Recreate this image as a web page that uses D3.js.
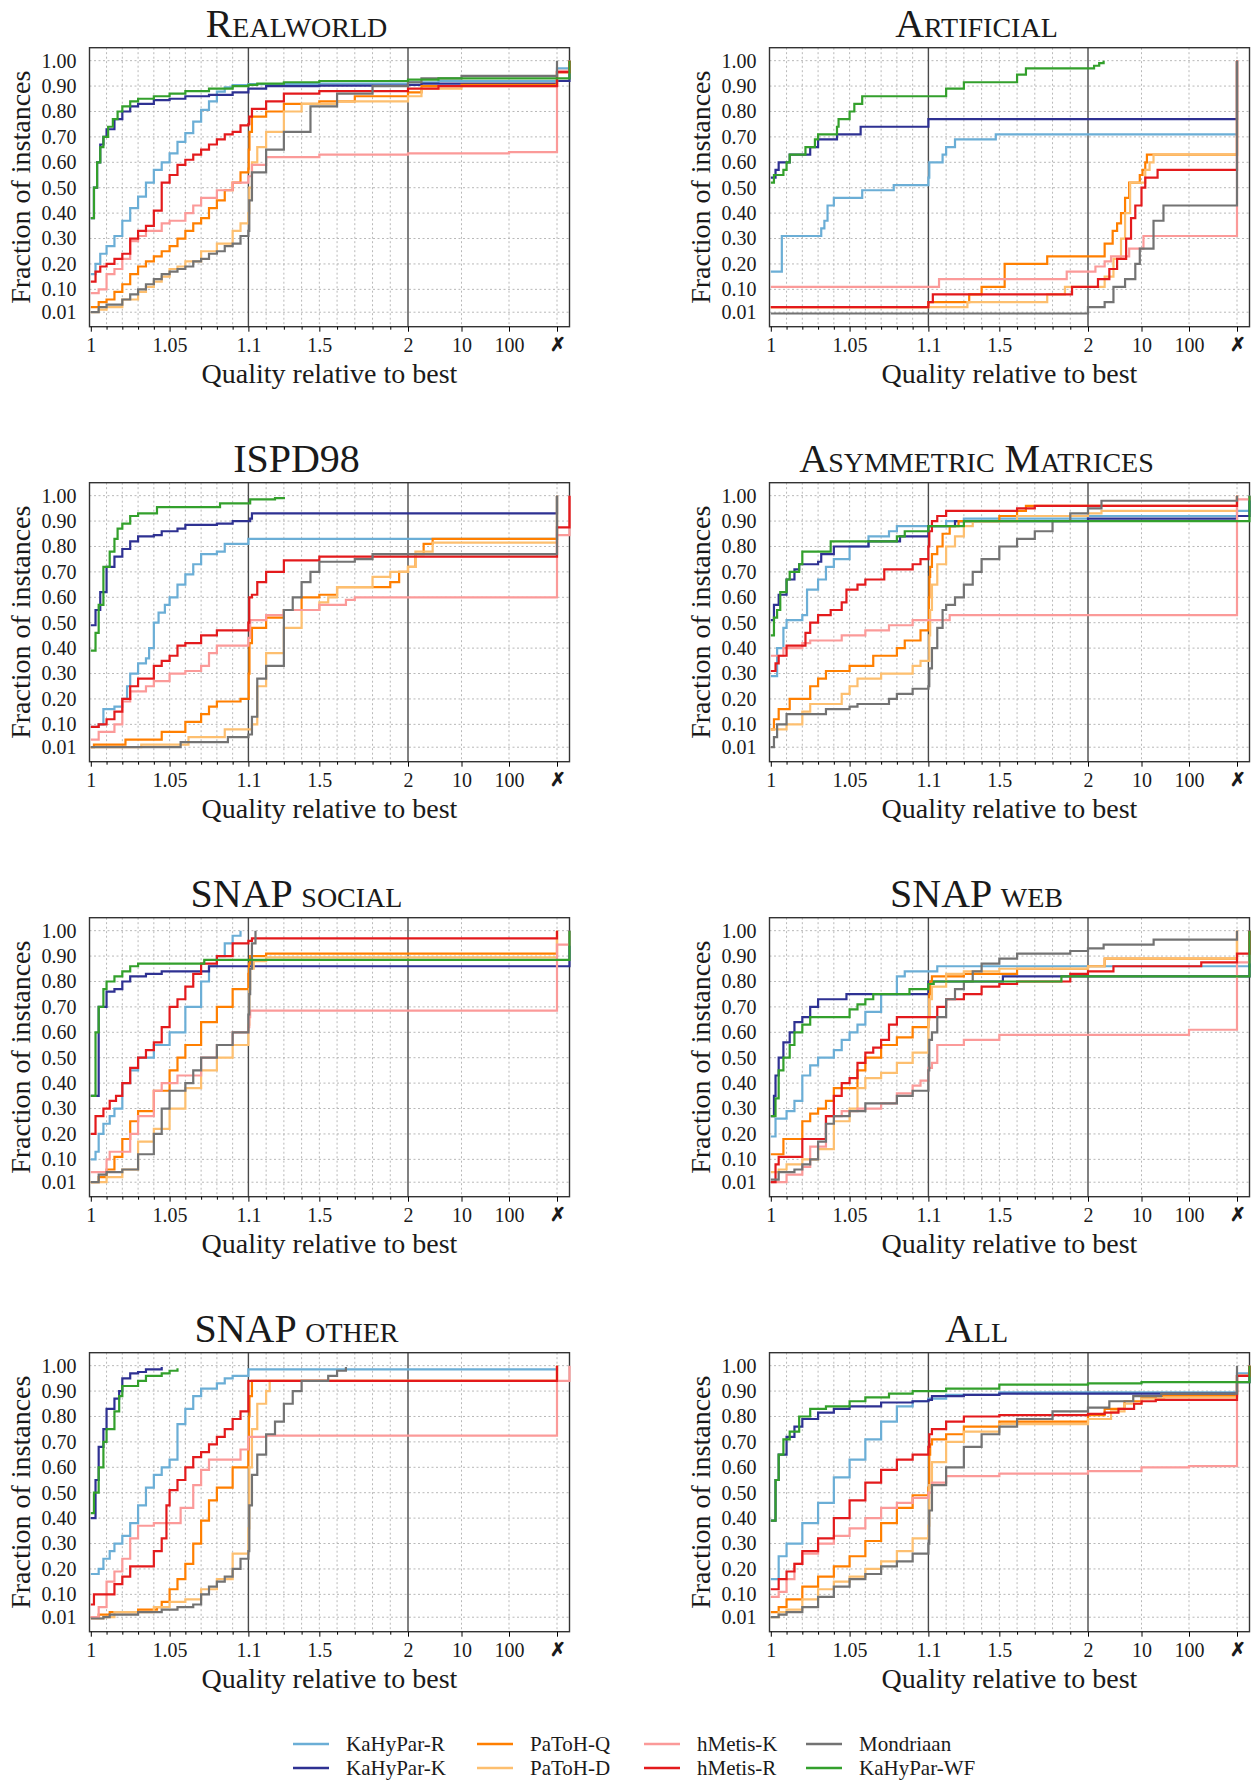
<!DOCTYPE html>
<html>
<head>
<meta charset="utf-8">
<script src="https://cdn.jsdelivr.net/npm/d3@7"></script>
<style>
  body { margin: 0; background: #fff; }
  text { font-family: "Liberation Serif", "DejaVu Serif", serif; fill: #1a1a1a; }
</style>
</head>
<body>
<svg id="chart" width="1256" height="1780"></svg>
<script>
// ✗ column and the right frame edge, as positions on the quality axis
const XM = 1000, END = 2000;

const algorithms = ["KaHyPar-R", "KaHyPar-K", "PaToH-Q", "PaToH-D", "hMetis-K", "hMetis-R", "Mondriaan", "KaHyPar-WF"];
const colors = ["#6baed6", "#2e3192", "#ff7f00", "#fdbf6f", "#fb9a99", "#e31a1c", "#737373", "#33a02c"];

const titles = ["Realworld", "Artificial", "ISPD98", "Asymmetric Matrices", "SNAP social", "SNAP web", "SNAP other", "All"];

const xTickValues = [1, 1.05, 1.1, 1.5, 2, 10, 100, XM];
const xTickLabels = ["1", "1.05", "1.1", "1.5", "2", "10", "100", "✗"];
const xMinor = [1.01, 1.02, 1.03, 1.04, 1.06, 1.07, 1.08, 1.09, 1.2, 1.3, 1.4, 1.6, 1.7, 1.8, 1.9];
const yTickValues = [0.01, 0.1, 0.2, 0.3, 0.4, 0.5, 0.6, 0.7, 0.8, 0.9, 1.0];

// each curve: [quality, fraction] steps; order follows `algorithms`
const realworldCurves = [
  [[1,0.16],[1.003,0.2],[1.006,0.24],[1.01,0.27],[1.015,0.31],[1.02,0.37],[1.025,0.42],[1.03,0.465],[1.035,0.52],[1.04,0.57],[1.045,0.6],[1.05,0.635],[1.055,0.68],[1.06,0.715],[1.065,0.76],[1.07,0.806],[1.075,0.84],[1.08,0.878],[1.085,0.895],[1.09,0.904],[1.1,0.908],[1.5,0.91],[2,0.915],[5,0.92]],
  [[1,0.38],[1.002,0.5],[1.004,0.6],[1.006,0.67],[1.008,0.7],[1.01,0.73],[1.015,0.77],[1.02,0.8],[1.025,0.82],[1.03,0.83],[1.04,0.845],[1.05,0.85],[1.06,0.86],[1.075,0.865],[1.09,0.875],[1.1,0.877],[1.1,0.89],[1.2,0.9],[1.5,0.902],[2,0.905],[3,0.91]],
  [[1,0.03],[1.005,0.05],[1.01,0.06],[1.015,0.09],[1.02,0.12],[1.025,0.16],[1.03,0.19],[1.035,0.21],[1.04,0.23],[1.045,0.25],[1.05,0.27],[1.055,0.3],[1.06,0.33],[1.065,0.36],[1.07,0.38],[1.075,0.42],[1.08,0.45],[1.085,0.49],[1.09,0.52],[1.095,0.56],[1.1,0.575],[1.102,0.65],[1.106,0.72],[1.12,0.78],[1.2,0.8],[1.3,0.83],[1.5,0.84],[1.7,0.86],[2,0.875],[3,0.9],[10,0.905]],
  [[1,0.01],[1.005,0.02],[1.01,0.03],[1.02,0.06],[1.03,0.09],[1.035,0.11],[1.04,0.13],[1.045,0.15],[1.05,0.18],[1.055,0.19],[1.06,0.21],[1.07,0.25],[1.08,0.28],[1.09,0.33],[1.095,0.36],[1.1,0.4],[1.105,0.5],[1.12,0.6],[1.15,0.66],[1.2,0.72],[1.3,0.8],[1.4,0.83],[1.6,0.84],[2,0.86],[3,0.89],[10,0.9]],
  [[1,0.085],[1.005,0.1],[1.01,0.16],[1.015,0.18],[1.02,0.22],[1.025,0.29],[1.03,0.31],[1.035,0.33],[1.045,0.36],[1.05,0.37],[1.06,0.4],[1.065,0.43],[1.07,0.46],[1.08,0.49],[1.09,0.52],[1.1,0.545],[1.12,0.59],[1.2,0.62],[1.5,0.63],[2,0.635],[100,0.64]],
  [[1,0.13],[1.003,0.17],[1.006,0.19],[1.01,0.2],[1.015,0.22],[1.02,0.24],[1.025,0.3],[1.03,0.33],[1.035,0.35],[1.04,0.41],[1.045,0.52],[1.05,0.55],[1.055,0.59],[1.06,0.61],[1.065,0.63],[1.07,0.65],[1.075,0.67],[1.08,0.69],[1.085,0.71],[1.09,0.72],[1.095,0.745],[1.1,0.75],[1.105,0.78],[1.12,0.81],[1.2,0.84],[1.3,0.87],[1.5,0.88],[2,0.89],[5,0.9]],
  [[1,0.01],[1.005,0.03],[1.01,0.04],[1.02,0.06],[1.025,0.08],[1.03,0.1],[1.035,0.12],[1.04,0.14],[1.045,0.16],[1.05,0.17],[1.055,0.18],[1.06,0.19],[1.065,0.21],[1.07,0.22],[1.075,0.24],[1.08,0.25],[1.085,0.27],[1.09,0.28],[1.095,0.31],[1.1,0.33],[1.105,0.45],[1.12,0.56],[1.2,0.65],[1.3,0.72],[1.45,0.82],[1.6,0.87],[1.8,0.9],[2,0.915],[3,0.93],[10,0.94]],
  [[1,0.38],[1.002,0.5],[1.004,0.6],[1.006,0.66],[1.008,0.7],[1.011,0.74],[1.014,0.77],[1.017,0.8],[1.02,0.82],[1.025,0.84],[1.03,0.85],[1.04,0.86],[1.05,0.87],[1.06,0.88],[1.075,0.89],[1.09,0.9],[1.1,0.905],[1.15,0.91],[1.3,0.915],[1.5,0.92],[2,0.925],[5,0.93]]
];
const realworldAtX = [0.97, 0.92, 0.955, 0.955, 0.96, 0.955, 1, 0.93];

const artificialCurves = [
  [[1,0.17],[1.005,0.17],[1.007,0.31],[1.03,0.31],[1.032,0.34],[1.034,0.37],[1.036,0.43],[1.04,0.46],[1.057,0.46],[1.058,0.49],[1.077,0.49],[1.078,0.51],[1.1,0.51],[1.1,0.54],[1.105,0.6],[1.18,0.63],[1.2,0.66],[1.25,0.69],[1.48,0.71]],
  [[1,0.54],[1.003,0.57],[1.005,0.6],[1.01,0.6],[1.012,0.63],[1.02,0.63],[1.025,0.66],[1.03,0.69],[1.04,0.69],[1.042,0.71],[1.055,0.71],[1.057,0.74],[1.1,0.74],[1.1,0.77]],
  [[1,0.03],[1.1,0.03],[1.1,0.05],[1.32,0.05],[1.33,0.08],[1.4,0.11],[1.52,0.11],[1.53,0.2],[1.76,0.2],[1.77,0.23],[2,0.23],[3.3,0.28],[4.2,0.33],[4.8,0.36],[5.4,0.4],[6.1,0.46],[6.9,0.52],[8.8,0.52],[9.5,0.55],[10.5,0.57],[12,0.6],[13,0.63]],
  [[1,0.03],[1.31,0.03],[1.32,0.05],[1.75,0.05],[1.77,0.08],[1.86,0.08],[1.87,0.11],[2,0.11],[3.3,0.15],[4.3,0.22],[5.4,0.3],[6.1,0.4],[7.1,0.52],[8.8,0.52],[12,0.57],[14.8,0.6],[17.9,0.63]],
  [[1,0.11],[1.1,0.11],[1.16,0.14],[1.88,0.17],[2,0.17],[2.5,0.19],[3.3,0.21],[4,0.23],[5.6,0.23],[6.9,0.26],[10,0.26],[11,0.31]],
  [[1,0.03],[1.1,0.03],[1.1,0.05],[1.12,0.05],[1.125,0.08],[1.9,0.08],[1.91,0.11],[2,0.11],[2.7,0.14],[3.8,0.18],[4.8,0.22],[6.3,0.3],[7.3,0.38],[8.3,0.43],[10,0.5],[12,0.54],[21.8,0.57]],
  [[1,0.005],[2,0.005],[2,0.03],[3.3,0.05],[4.3,0.11],[5.4,0.11],[6.1,0.14],[7.3,0.14],[8.3,0.2],[9.5,0.26],[13.4,0.26],[17.9,0.37],[29,0.43]],
  [[1,0.52],[1.002,0.55],[1.007,0.55],[1.008,0.57],[1.01,0.6],[1.012,0.63],[1.02,0.63],[1.022,0.66],[1.028,0.69],[1.03,0.71],[1.04,0.71],[1.042,0.74],[1.043,0.77],[1.048,0.77],[1.05,0.8],[1.053,0.83],[1.056,0.83],[1.058,0.86],[1.19,0.86],[1.2,0.89],[1.28,0.89],[1.3,0.915],[1.58,0.915],[1.6,0.945],[1.63,0.945],[1.65,0.97],[2,0.97],[2.4,0.98],[2.8,0.99],[3.2,1.0]]
];
const artificialAtX = [1, 1, 1, 1, 1, 1, 1, null];

const ispdCurves = [
  [[1,0.09],[1.005,0.1],[1.008,0.16],[1.015,0.17],[1.02,0.2],[1.023,0.25],[1.025,0.3],[1.03,0.34],[1.035,0.36],[1.037,0.4],[1.04,0.5],[1.043,0.54],[1.047,0.57],[1.05,0.6],[1.055,0.65],[1.06,0.69],[1.065,0.73],[1.07,0.77],[1.08,0.78],[1.085,0.81],[1.1,0.815],[1.1,0.83]],
  [[1,0.49],[1.003,0.55],[1.006,0.62],[1.01,0.72],[1.015,0.76],[1.02,0.79],[1.025,0.82],[1.03,0.84],[1.04,0.845],[1.045,0.86],[1.055,0.87],[1.06,0.885],[1.08,0.89],[1.09,0.9],[1.1,0.9],[1.11,0.91],[1.12,0.93]],
  [[1,0.01],[1.002,0.02],[1.02,0.02],[1.022,0.04],[1.04,0.04],[1.045,0.07],[1.055,0.07],[1.06,0.11],[1.07,0.14],[1.075,0.17],[1.08,0.19],[1.095,0.2],[1.1,0.2],[1.102,0.3],[1.106,0.42],[1.12,0.48],[1.2,0.52],[1.3,0.55],[1.4,0.6],[1.5,0.61],[1.6,0.64],[1.9,0.66],[1.95,0.7],[2,0.72],[2.5,0.77],[3.2,0.81],[4.2,0.83]],
  [[1,0.01],[1.03,0.01],[1.032,0.02],[1.06,0.02],[1.062,0.05],[1.08,0.05],[1.085,0.08],[1.1,0.08],[1.12,0.1],[1.15,0.25],[1.2,0.38],[1.3,0.48],[1.4,0.55],[1.5,0.58],[1.55,0.6],[1.6,0.64],[1.8,0.68],[1.9,0.7],[2,0.72],[2.5,0.78],[4.2,0.815]],
  [[1,0.04],[1.005,0.07],[1.015,0.1],[1.02,0.19],[1.025,0.23],[1.035,0.25],[1.04,0.27],[1.05,0.3],[1.06,0.31],[1.07,0.33],[1.075,0.38],[1.08,0.41],[1.1,0.42],[1.1,0.44],[1.11,0.51],[1.2,0.53],[1.3,0.55],[1.5,0.57],[1.65,0.59],[1.7,0.6]],
  [[1,0.09],[1.005,0.1],[1.01,0.12],[1.015,0.15],[1.02,0.2],[1.025,0.25],[1.03,0.28],[1.04,0.33],[1.045,0.35],[1.05,0.37],[1.055,0.41],[1.06,0.42],[1.07,0.45],[1.08,0.47],[1.1,0.47],[1.1,0.5],[1.105,0.6],[1.12,0.61],[1.15,0.66],[1.2,0.7],[1.3,0.745],[1.5,0.76]],
  [[1,0.01],[1.055,0.01],[1.057,0.03],[1.085,0.03],[1.087,0.05],[1.1,0.05],[1.1,0.06],[1.12,0.13],[1.15,0.28],[1.2,0.33],[1.3,0.55],[1.35,0.6],[1.4,0.66],[1.45,0.7],[1.5,0.74],[1.7,0.75],[1.8,0.77]],
  [[1,0.39],[1.003,0.46],[1.005,0.57],[1.008,0.72],[1.012,0.78],[1.015,0.83],[1.017,0.87],[1.02,0.89],[1.025,0.92],[1.03,0.93],[1.04,0.93],[1.042,0.955],[1.08,0.955],[1.082,0.97],[1.1,0.97],[1.11,0.985],[1.25,0.99],[1.3,0.995]]
];
const ispdAtX = [1, 1, 1, 1, 0.845, 0.875, 1, null];

const asymCurves = [
  [[1,0.29],[1.004,0.4],[1.008,0.48],[1.01,0.51],[1.02,0.53],[1.023,0.63],[1.03,0.67],[1.035,0.72],[1.04,0.75],[1.05,0.8],[1.062,0.84],[1.075,0.86],[1.08,0.88],[1.1,0.88],[1.2,0.9],[1.3,0.91],[2,0.92]],
  [[1,0.51],[1.002,0.57],[1.005,0.61],[1.01,0.67],[1.015,0.71],[1.018,0.73],[1.03,0.74],[1.032,0.77],[1.04,0.8],[1.06,0.8],[1.062,0.82],[1.08,0.82],[1.082,0.84],[1.1,0.84],[1.1,0.88],[1.22,0.88],[1.25,0.9],[2,0.91]],
  [[1,0.08],[1.002,0.12],[1.005,0.16],[1.01,0.16],[1.012,0.2],[1.022,0.2],[1.025,0.25],[1.03,0.28],[1.035,0.31],[1.045,0.31],[1.05,0.33],[1.06,0.33],[1.065,0.37],[1.075,0.37],[1.08,0.4],[1.085,0.43],[1.09,0.43],[1.095,0.47],[1.1,0.5],[1.103,0.6],[1.106,0.68],[1.11,0.72],[1.12,0.77],[1.15,0.8],[1.18,0.85],[1.22,0.88],[1.27,0.9],[1.5,0.92],[1.6,0.94],[1.65,0.96]],
  [[1,0.08],[1.01,0.1],[1.015,0.1],[1.02,0.15],[1.025,0.18],[1.04,0.18],[1.045,0.22],[1.05,0.25],[1.055,0.28],[1.065,0.28],[1.07,0.3],[1.085,0.3],[1.09,0.33],[1.095,0.35],[1.1,0.35],[1.105,0.45],[1.11,0.55],[1.12,0.65],[1.15,0.73],[1.2,0.8],[1.25,0.84],[1.3,0.88],[1.35,0.9],[1.6,0.92],[2,0.93],[3,0.94]],
  [[1,0.37],[1.006,0.37],[1.008,0.4],[1.02,0.42],[1.025,0.43],[1.04,0.43],[1.045,0.45],[1.055,0.45],[1.06,0.47],[1.07,0.47],[1.075,0.49],[1.085,0.49],[1.09,0.51],[1.2,0.51],[1.22,0.53]],
  [[1,0.31],[1.003,0.34],[1.005,0.37],[1.01,0.41],[1.02,0.41],[1.022,0.46],[1.025,0.5],[1.03,0.53],[1.038,0.55],[1.045,0.58],[1.048,0.63],[1.055,0.65],[1.06,0.67],[1.07,0.67],[1.072,0.71],[1.09,0.73],[1.095,0.75],[1.1,0.76],[1.1,0.8],[1.105,0.86],[1.12,0.9],[1.15,0.92],[1.2,0.94],[1.4,0.94],[1.6,0.95],[1.7,0.96]],
  [[1,0.01],[1.002,0.05],[1.004,0.1],[1.01,0.14],[1.03,0.14],[1.035,0.16],[1.05,0.17],[1.055,0.18],[1.07,0.18],[1.075,0.2],[1.08,0.22],[1.09,0.24],[1.1,0.25],[1.105,0.32],[1.12,0.4],[1.15,0.48],[1.18,0.55],[1.2,0.57],[1.25,0.6],[1.3,0.65],[1.35,0.7],[1.4,0.75],[1.5,0.8],[1.6,0.83],[1.7,0.86],[1.8,0.9],[1.9,0.93],[2,0.95],[3,0.98]],
  [[1,0.45],[1.002,0.52],[1.004,0.55],[1.006,0.62],[1.01,0.67],[1.012,0.7],[1.018,0.73],[1.02,0.78],[1.035,0.78],[1.038,0.82],[1.075,0.82],[1.08,0.84],[1.085,0.86],[1.1,0.86],[1.1,0.88],[1.25,0.88],[1.3,0.9]]
];
const asymAtX = [0.94, 0.92, 1, 1, 0.985, 1, 1, 0.9];

const socialCurves = [
  [[1,0.1],[1.003,0.13],[1.005,0.2],[1.008,0.24],[1.012,0.27],[1.015,0.3],[1.02,0.4],[1.025,0.45],[1.03,0.5],[1.04,0.55],[1.05,0.6],[1.06,0.7],[1.07,0.8],[1.075,0.86],[1.08,0.9],[1.085,0.95],[1.09,0.98],[1.095,1.0]],
  [[1,0.35],[1.005,0.7],[1.01,0.76],[1.015,0.77],[1.02,0.8],[1.025,0.82],[1.035,0.83],[1.045,0.84],[1.07,0.84],[1.075,0.86]],
  [[1,0.01],[1.005,0.03],[1.01,0.06],[1.015,0.11],[1.02,0.18],[1.025,0.25],[1.03,0.29],[1.04,0.37],[1.05,0.45],[1.055,0.5],[1.06,0.55],[1.07,0.64],[1.08,0.7],[1.09,0.77],[1.1,0.83],[1.103,0.87],[1.11,0.9],[1.2,0.91]],
  [[1,0.01],[1.01,0.03],[1.02,0.06],[1.03,0.17],[1.04,0.22],[1.05,0.3],[1.06,0.38],[1.07,0.45],[1.08,0.5],[1.09,0.55],[1.1,0.63],[1.105,0.77],[1.11,0.85],[1.13,0.88],[1.2,0.895]],
  [[1,0.05],[1.008,0.05],[1.01,0.1],[1.012,0.13],[1.02,0.13],[1.025,0.2],[1.03,0.27],[1.04,0.37],[1.045,0.4],[1.055,0.43],[1.07,0.5],[1.08,0.55],[1.09,0.6],[1.1,0.62],[1.105,0.66],[1.11,0.685]],
  [[1,0.2],[1.003,0.27],[1.008,0.3],[1.012,0.33],[1.016,0.35],[1.02,0.4],[1.025,0.46],[1.03,0.5],[1.035,0.53],[1.04,0.56],[1.045,0.62],[1.05,0.7],[1.055,0.73],[1.06,0.78],[1.065,0.83],[1.07,0.87],[1.08,0.9],[1.09,0.95],[1.1,0.96],[1.12,0.97]],
  [[1,0.01],[1.005,0.04],[1.01,0.05],[1.02,0.06],[1.03,0.12],[1.04,0.2],[1.045,0.3],[1.05,0.37],[1.06,0.4],[1.065,0.45],[1.07,0.5],[1.08,0.55],[1.09,0.6],[1.1,0.67],[1.105,0.75],[1.11,0.85],[1.12,0.95],[1.14,1.0]],
  [[1,0.35],[1.003,0.6],[1.005,0.7],[1.008,0.77],[1.01,0.8],[1.015,0.82],[1.02,0.84],[1.025,0.86],[1.03,0.87],[1.07,0.87],[1.072,0.885]]
];
const socialAtX = [null, 0.86, 1, 1, 0.945, 1, null, 0.885];

const webCurves = [
  [[1,0.19],[1.003,0.26],[1.01,0.29],[1.015,0.33],[1.02,0.43],[1.025,0.47],[1.03,0.5],[1.04,0.53],[1.045,0.57],[1.05,0.6],[1.055,0.63],[1.06,0.68],[1.07,0.75],[1.08,0.82],[1.085,0.84],[1.1,0.84],[1.15,0.86]],
  [[1,0.27],[1.002,0.35],[1.003,0.43],[1.005,0.5],[1.008,0.56],[1.012,0.6],[1.015,0.64],[1.02,0.66],[1.025,0.7],[1.03,0.73],[1.045,0.73],[1.048,0.75],[1.095,0.75],[1.1,0.78],[1.1,0.8],[1.5,0.8],[1.52,0.82]],
  [[1,0.12],[1.005,0.12],[1.008,0.18],[1.015,0.18],[1.02,0.25],[1.025,0.28],[1.03,0.3],[1.035,0.33],[1.04,0.38],[1.05,0.38],[1.055,0.45],[1.06,0.5],[1.07,0.55],[1.08,0.58],[1.09,0.62],[1.1,0.66],[1.105,0.75],[1.11,0.8],[1.12,0.82],[1.3,0.83],[1.6,0.85],[2,0.86],[3.3,0.89]],
  [[1,0.05],[1.005,0.06],[1.01,0.08],[1.02,0.1],[1.03,0.14],[1.04,0.25],[1.05,0.3],[1.055,0.38],[1.06,0.42],[1.07,0.44],[1.08,0.48],[1.09,0.52],[1.1,0.56],[1.1,0.65],[1.105,0.73],[1.12,0.78],[1.2,0.83],[1.3,0.84],[1.5,0.85],[2,0.86],[3.3,0.89]],
  [[1,0.01],[1.005,0.01],[1.01,0.04],[1.02,0.07],[1.025,0.15],[1.035,0.27],[1.045,0.29],[1.055,0.3],[1.07,0.32],[1.08,0.36],[1.09,0.39],[1.095,0.41],[1.1,0.41],[1.1,0.46],[1.12,0.48],[1.15,0.55],[1.3,0.57],[1.45,0.57],[1.5,0.59],[95,0.59],[100,0.61]],
  [[1,0.01],[1.003,0.08],[1.005,0.11],[1.015,0.11],[1.02,0.18],[1.03,0.18],[1.035,0.27],[1.04,0.35],[1.045,0.4],[1.05,0.42],[1.055,0.48],[1.06,0.52],[1.065,0.54],[1.07,0.57],[1.075,0.63],[1.08,0.66],[1.1,0.66],[1.15,0.7],[1.2,0.73],[1.3,0.75],[1.4,0.78],[1.5,0.79],[1.6,0.8],[1.8,0.8],[1.9,0.83],[2,0.84],[4.3,0.86],[180,0.875]],
  [[1,0.02],[1.005,0.05],[1.015,0.06],[1.02,0.08],[1.025,0.1],[1.03,0.17],[1.035,0.24],[1.04,0.27],[1.05,0.29],[1.06,0.32],[1.075,0.32],[1.08,0.35],[1.09,0.37],[1.1,0.39],[1.1,0.45],[1.105,0.57],[1.12,0.6],[1.15,0.66],[1.2,0.73],[1.25,0.77],[1.3,0.8],[1.35,0.84],[1.4,0.87],[1.5,0.89],[1.6,0.91],[1.9,0.92],[2,0.93],[3.2,0.945],[18,0.965]],
  [[1,0.27],[1.003,0.34],[1.005,0.45],[1.008,0.5],[1.012,0.55],[1.015,0.6],[1.02,0.63],[1.025,0.66],[1.045,0.66],[1.05,0.69],[1.055,0.71],[1.06,0.73],[1.065,0.75],[1.085,0.75],[1.088,0.77],[1.1,0.77],[1.1,0.79],[1.13,0.8],[1.8,0.8],[1.85,0.82]]
];
const webAtX = [0.86, 0.82, 1, 1, 0.875, 0.91, 1, 0.82];

const otherCurves = [
  [[1,0.18],[1.005,0.2],[1.008,0.24],[1.012,0.27],[1.015,0.3],[1.02,0.33],[1.025,0.38],[1.03,0.45],[1.035,0.52],[1.04,0.57],[1.045,0.6],[1.05,0.63],[1.055,0.77],[1.06,0.83],[1.065,0.88],[1.07,0.91],[1.08,0.93],[1.085,0.95],[1.09,0.96],[1.1,0.97],[1.1,0.985]],
  [[1,0.4],[1.003,0.55],[1.005,0.68],[1.008,0.75],[1.01,0.83],[1.015,0.87],[1.018,0.9],[1.02,0.95],[1.025,0.97],[1.03,0.975],[1.035,0.985],[1.045,0.995]],
  [[1,0.01],[1.005,0.02],[1.012,0.03],[1.03,0.04],[1.042,0.05],[1.045,0.07],[1.05,0.12],[1.055,0.16],[1.06,0.22],[1.065,0.3],[1.07,0.39],[1.075,0.47],[1.08,0.52],[1.09,0.6],[1.1,0.67],[1.103,0.8],[1.106,0.88],[1.12,0.94]],
  [[1,0.005],[1.008,0.01],[1.015,0.03],[1.04,0.05],[1.05,0.07],[1.06,0.08],[1.07,0.12],[1.08,0.16],[1.09,0.26],[1.1,0.36],[1.105,0.6],[1.12,0.75],[1.15,0.85],[1.2,0.9],[1.22,0.94]],
  [[1,0.01],[1.005,0.05],[1.01,0.15],[1.015,0.19],[1.02,0.24],[1.025,0.32],[1.03,0.37],[1.04,0.38],[1.055,0.38],[1.057,0.44],[1.065,0.53],[1.07,0.59],[1.075,0.63],[1.09,0.63],[1.095,0.67],[1.1,0.69],[1.1,0.72],[1.2,0.725]],
  [[1,0.06],[1.002,0.1],[1.012,0.1],[1.015,0.14],[1.02,0.17],[1.025,0.21],[1.035,0.21],[1.04,0.27],[1.045,0.32],[1.048,0.45],[1.05,0.51],[1.055,0.55],[1.06,0.6],[1.065,0.64],[1.07,0.66],[1.075,0.69],[1.08,0.72],[1.085,0.75],[1.09,0.79],[1.095,0.82],[1.1,0.87],[1.1,0.94]],
  [[1,0.005],[1.008,0.01],[1.012,0.02],[1.03,0.03],[1.045,0.04],[1.055,0.05],[1.065,0.06],[1.07,0.1],[1.075,0.13],[1.08,0.15],[1.085,0.17],[1.09,0.2],[1.095,0.24],[1.1,0.27],[1.105,0.45],[1.12,0.57],[1.15,0.65],[1.2,0.73],[1.25,0.78],[1.3,0.85],[1.35,0.9],[1.4,0.94],[1.5,0.94],[1.55,0.96],[1.6,0.98],[1.65,0.995]],
  [[1,0.42],[1.002,0.5],[1.005,0.6],[1.008,0.7],[1.01,0.75],[1.015,0.82],[1.018,0.88],[1.02,0.92],[1.03,0.94],[1.035,0.96],[1.045,0.97],[1.05,0.98],[1.055,0.99]]
];
const otherAtX = [1, null, 1, 1, 0.94, 1, null, null];

const allCurves = [
  [[1,0.16],[1.005,0.25],[1.01,0.3],[1.02,0.38],[1.03,0.46],[1.04,0.56],[1.05,0.63],[1.06,0.71],[1.07,0.78],[1.08,0.84],[1.09,0.86],[1.1,0.87],[1.2,0.885],[1.5,0.895],[2,0.895]],
  [[1,0.39],[1.003,0.55],[1.005,0.65],[1.01,0.72],[1.015,0.76],[1.02,0.79],[1.03,0.815],[1.04,0.83],[1.05,0.84],[1.07,0.855],[1.09,0.86],[1.1,0.865],[1.12,0.88],[1.3,0.885],[1.5,0.89]],
  [[1,0.03],[1.005,0.05],[1.01,0.08],[1.02,0.13],[1.03,0.17],[1.04,0.21],[1.05,0.25],[1.06,0.31],[1.07,0.38],[1.08,0.44],[1.09,0.49],[1.1,0.52],[1.105,0.65],[1.11,0.69],[1.12,0.71],[1.2,0.73],[1.3,0.76],[1.5,0.78],[2,0.805],[3.3,0.83],[6,0.86],[10,0.875],[20,0.88]],
  [[1,0.01],[1.005,0.03],[1.01,0.04],[1.02,0.08],[1.03,0.12],[1.04,0.15],[1.05,0.17],[1.06,0.2],[1.07,0.23],[1.08,0.27],[1.09,0.32],[1.1,0.37],[1.105,0.53],[1.12,0.62],[1.2,0.7],[1.3,0.74],[1.5,0.77],[2,0.79],[4,0.82],[6,0.85],[10,0.87],[30,0.875]],
  [[1,0.09],[1.005,0.11],[1.01,0.16],[1.015,0.22],[1.02,0.26],[1.03,0.3],[1.04,0.33],[1.05,0.36],[1.06,0.4],[1.07,0.44],[1.08,0.46],[1.09,0.48],[1.1,0.5],[1.12,0.54],[1.2,0.565],[1.5,0.575],[2,0.585],[10,0.6],[100,0.605]],
  [[1,0.12],[1.005,0.16],[1.01,0.19],[1.015,0.22],[1.02,0.27],[1.03,0.32],[1.04,0.4],[1.05,0.47],[1.06,0.54],[1.07,0.59],[1.08,0.63],[1.09,0.65],[1.1,0.68],[1.105,0.73],[1.12,0.75],[1.2,0.78],[1.3,0.8],[1.5,0.805],[2,0.81],[3.3,0.815],[5,0.83],[8,0.85],[10,0.86],[20,0.865]],
  [[1,0.01],[1.005,0.02],[1.01,0.03],[1.02,0.05],[1.03,0.09],[1.04,0.13],[1.05,0.16],[1.06,0.18],[1.07,0.21],[1.08,0.23],[1.09,0.26],[1.1,0.3],[1.105,0.43],[1.12,0.53],[1.2,0.6],[1.3,0.68],[1.4,0.73],[1.5,0.76],[1.6,0.79],[1.8,0.82],[2,0.835],[3.8,0.86],[7.8,0.88],[26,0.89]],
  [[1,0.39],[1.003,0.55],[1.005,0.65],[1.008,0.71],[1.012,0.74],[1.018,0.8],[1.025,0.83],[1.035,0.84],[1.05,0.86],[1.06,0.875],[1.075,0.89],[1.09,0.9],[1.1,0.9],[1.2,0.91],[1.5,0.925],[2,0.93],[10,0.935]]
];
const allAtX = [0.97, 0.935, 0.96, 0.96, 0.96, 0.96, 1, 0.935];

const panels = [
  { title: titles[0], curves: realworldCurves, atX: realworldAtX },
  { title: titles[1], curves: artificialCurves, atX: artificialAtX },
  { title: titles[2], curves: ispdCurves, atX: ispdAtX },
  { title: titles[3], curves: asymCurves, atX: asymAtX },
  { title: titles[4], curves: socialCurves, atX: socialAtX },
  { title: titles[5], curves: webCurves, atX: webAtX },
  { title: titles[6], curves: otherCurves, atX: otherAtX },
  { title: titles[7], curves: allCurves, atX: allAtX }
];

// layout
const W = 480, H = 279;
const colX = [89.5, 769.5];
const rowY = [47.7, 482.7, 917.7, 1352.7];

// piecewise axis: linear to 2, logarithmic beyond
const tr = v => v <= 2 ? v : 2 + Math.log10(v / 2);
const xs = d3.scaleLinear()
  .domain([1, 1.1, 2, tr(10), tr(100), tr(XM), tr(END)])
  .range([1.3, 158.9, 318.5, 372, 419.5, 467.5, 480]);
const x = v => xs(tr(v));
const y = d3.scaleLinear().domain([-0.047, 1.051]).range([H, 0]);

const line = d3.line()
  .x(d => x(d[0]))
  .y(d => y(d[1]))
  .curve(d3.curveStepAfter);

const svg = d3.select("#chart");

panels.forEach((p, i) => {
  const x0 = colX[i % 2], y0 = rowY[Math.floor(i / 2)];
  const g = svg.append("g").attr("transform", `translate(${x0},${y0})`);

  // dotted grid
  g.append("g").selectAll("line")
    .data(yTickValues)
    .join("line")
    .attr("x1", 0).attr("x2", W)
    .attr("y1", d => y(d)).attr("y2", d => y(d))
    .attr("stroke", "#b8b8b8")
    .attr("stroke-dasharray", "2,2.5");

  g.append("g").selectAll("line")
    .data(xMinor.concat([1.05, 1.5, 10, 100, XM]))
    .join("line")
    .attr("x1", d => x(d)).attr("x2", d => x(d))
    .attr("y1", 0).attr("y2", H)
    .attr("stroke", "#b8b8b8")
    .attr("stroke-dasharray", "2,2.5");

  // section borders
  g.append("g").selectAll("line")
    .data([1.1, 2])
    .join("line")
    .attr("x1", d => x(d)).attr("x2", d => x(d))
    .attr("y1", 0).attr("y2", H)
    .attr("stroke", "#4a4a4a")
    .attr("stroke-width", 1.4);

  g.append("rect")
    .attr("width", W).attr("height", H)
    .attr("fill", "none")
    .attr("stroke", "#333")
    .attr("stroke-width", 1.4);

  // axes
  const xAxis = g.append("g")
    .attr("transform", `translate(0,${H})`)
    .call(d3.axisBottom(xs).tickValues(xTickValues.map(tr)).tickSize(5).tickPadding(6)
      .tickFormat((d, k) => xTickLabels[k]));
  xAxis.select(".domain").remove();
  xAxis.selectAll("text").attr("font-size", 20).attr("font-family", null);
  xAxis.selectAll("text").filter((d, k) => k === xTickLabels.length - 1)
    .attr("font-family", "DejaVu Sans").attr("font-weight", "bold").attr("font-size", 19);

  const minor = g.append("g")
    .attr("transform", `translate(0,${H})`)
    .call(d3.axisBottom(xs).tickValues(xMinor.map(tr)).tickSize(3).tickFormat(""));
  minor.select(".domain").remove();

  const yAxis = g.append("g")
    .call(d3.axisLeft(y).tickValues(yTickValues).tickSize(0).tickPadding(13).tickFormat(d3.format(".2f")));
  yAxis.select(".domain").remove();
  yAxis.selectAll("text").attr("font-size", 20).attr("font-family", null);

  // curves
  p.curves.forEach((c, k) => {
    const pts = c.slice();
    const last = pts[pts.length - 1][1];
    const ax = p.atX[k];
    if (ax !== null) {
      pts.push([XM, last], [XM, ax]);
      if (ax < 1) pts.push([END, ax], [END, 1]);
    }
    g.append("path")
      .datum(pts)
      .attr("d", line)
      .attr("fill", "none")
      .attr("stroke", colors[k])
      .attr("stroke-width", 2.2);
  });

  // labels
  g.append("text")
    .attr("x", W / 2 - 33).attr("y", -11)
    .attr("text-anchor", "middle")
    .attr("font-size", 40)
    .style("font-variant", "small-caps")
    .text(p.title);

  g.append("text")
    .attr("x", W / 2).attr("y", H + 56)
    .attr("text-anchor", "middle")
    .attr("font-size", 28)
    .text("Quality relative to best");

  g.append("text")
    .attr("transform", `translate(-69,${H / 2}) rotate(-90)`)
    .attr("text-anchor", "middle")
    .attr("dominant-baseline", "central")
    .attr("font-size", 28)
    .text("Fraction of instances");
});

// legend, two rows per column
const legendX = [293, 477, 644, 806];
const legendY = [1744, 1768];
const legend = svg.append("g").selectAll("g")
  .data(algorithms)
  .join("g")
  .attr("transform", (d, k) => `translate(${legendX[Math.floor(k / 2)]},${legendY[k % 2]})`);

legend.append("line")
  .attr("x1", 0).attr("x2", 36)
  .attr("stroke", (d, k) => colors[k])
  .attr("stroke-width", 2.5);

legend.append("text")
  .attr("x", 53)
  .attr("dominant-baseline", "central")
  .attr("font-size", 21)
  .text(d => d);
</script>
</body>
</html>
